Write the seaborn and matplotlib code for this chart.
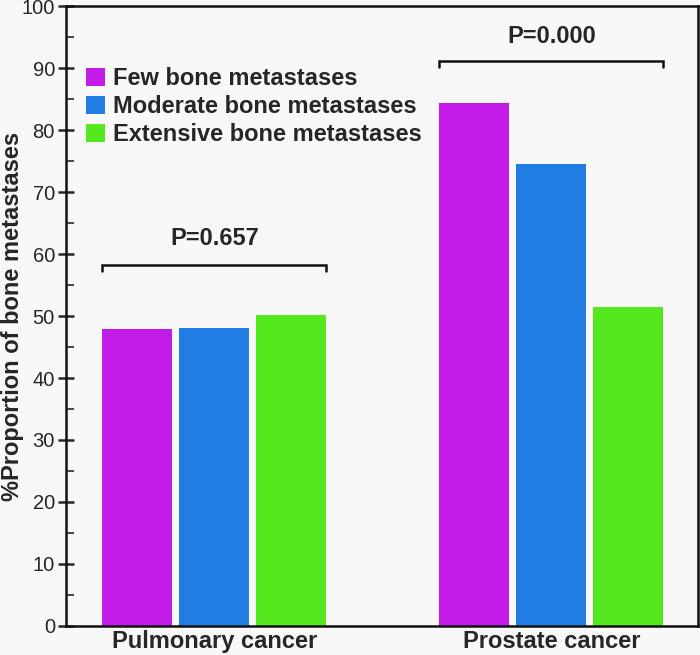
import pandas as pd
import matplotlib.pyplot as plt
import seaborn as sns
from matplotlib.ticker import MultipleLocator

# Datos
cancers = ["Pulmonary cancer", "Prostate cancer"]
groups = ["Few bone metastases", "Moderate bone metastases", "Extensive bone metastases"]
few = [47.9, 84.4]
moderate = [48.1, 74.5]
extensive = [50.1, 51.5]
p_values = ["P=0.657", "P=0.000"]
bracket_y = [58.3, 91.2]
p_text_y = [62.9, 95.5]
colors = ["#c41ce8", "#217de3", "#55e81f"]

df = pd.DataFrame({
    "cancer": cancers * 3,
    "group": [groups[0]] * 2 + [groups[1]] * 2 + [groups[2]] * 2,
    "value": few + moderate + extensive,
})

sns.set_style("ticks")
plt.rcParams["font.family"] = ["Liberation Sans", "DejaVu Sans"]
bg = "#f8f8f8"

fig = plt.figure(figsize=(7, 6.55), dpi=100, facecolor=bg)
ax = fig.add_axes([0.0943, 0.0443, 0.9027, 0.9465])
ax.set_facecolor(bg)

sns.barplot(data=df, x="cancer", y="value", hue="group", order=cancers,
            hue_order=groups, palette=colors, width=0.686, gap=0.09,
            saturation=1, edgecolor="none", ax=ax)

ax.set_xlim(-0.44, 1.435)
ax.set_ylim(0, 100)
ax.yaxis.set_major_locator(MultipleLocator(10))
ax.yaxis.set_minor_locator(MultipleLocator(5))
ax.tick_params(axis="y", which="major", direction="inout", length=12, width=1.8,
               labelsize=14.5, pad=2)
ax.tick_params(axis="y", which="minor", direction="in", length=6, width=1.2)
ax.tick_params(axis="x", length=0, labelsize=17, pad=3)
for lbl in ax.get_xticklabels():
    lbl.set_fontweight("bold")
for sp in ax.spines.values():
    sp.set_linewidth(1.8)
    sp.set_color("#111111")

ax.set_xlabel("")
ax.set_ylabel("%Proportion of bone metastases", fontsize=17, fontweight="bold")
ax.yaxis.set_label_coords(-0.0665, 0.5)

# Brackets and p-values
offsets = [-0.2285, 0.2285]
for i in range(2):
    x0 = i + offsets[0] - 0.104
    x1 = i + offsets[1] + 0.104
    y = bracket_y[i]
    ax.plot([x0, x0, x1, x1], [y - 1.1, y, y, y - 1.1], color="#111111", lw=1.8,
            solid_joinstyle="miter")
    ax.text(i, p_text_y[i], p_values[i], ha="center", va="center_baseline",
            fontsize=17, fontweight="bold")

handles, labels = ax.get_legend_handles_labels()
ax.legend(handles, labels, loc="upper left", bbox_to_anchor=(0.032, 0.902),
          frameon=False, prop={"weight": "bold", "size": 17},
          handlelength=0.8, handleheight=0.8, handletextpad=0.34,
          labelspacing=0.22, borderpad=0, borderaxespad=0)

fig.savefig("out.png", dpi=100, facecolor=bg)
